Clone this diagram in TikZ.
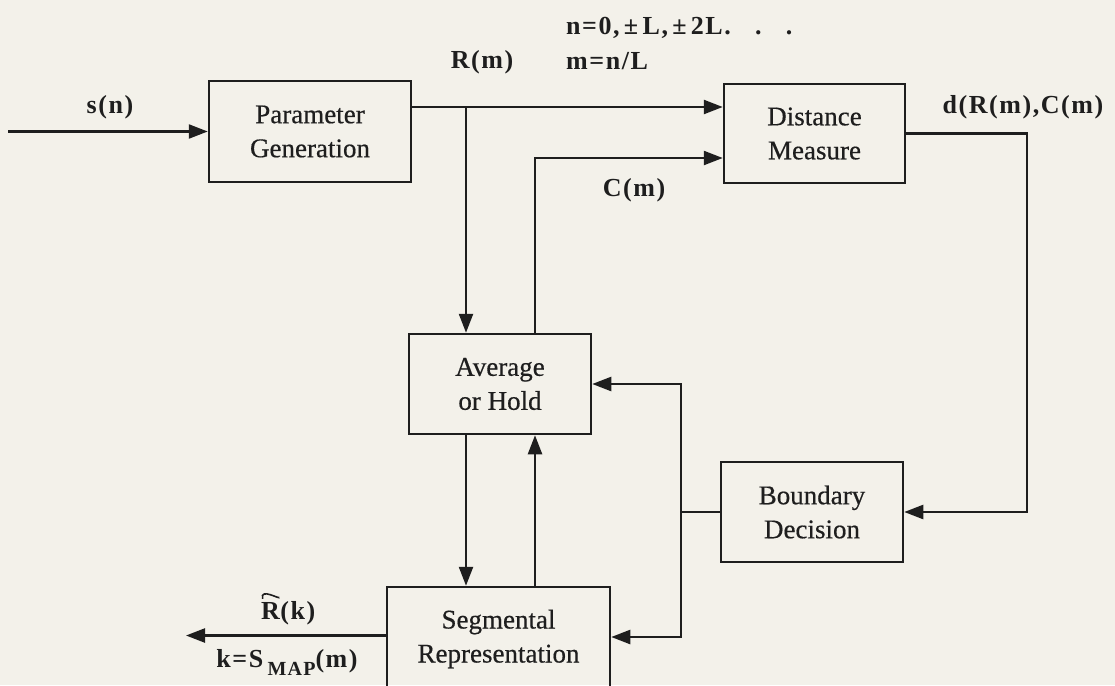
\documentclass[tikz,border=0pt]{standalone}
\usepackage{fontspec}
\setmainfont{Liberation Serif}
\newfontface\boxfont[FakeBold=0.5]{Liberation Serif}
\newfontfamily\lblfont[LetterSpace=6]{Liberation Serif}
\usetikzlibrary{arrows.meta}
\definecolor{paper}{HTML}{F3F1EA}
\definecolor{ink}{HTML}{1E1E1E}
\tikzset{
  blk/.style={draw=ink, line width=2.5pt, rectangle, inner sep=0pt, align=center,
    font=\boxfont\fontsize{27}{34}\selectfont, text=ink},
  conn/.style={draw=ink, line width=2.4pt},
  arr/.style={conn, -{Triangle[length=19pt,width=14pt]}},
  lbl/.style={font=\lblfont\bfseries\fontsize{26}{32}\selectfont, text=ink, inner sep=0pt},
}
\begin{document}
\begin{tikzpicture}[x=1pt,y=-1pt]
\fill[paper] (0,0) rectangle (1115,685);
\useasboundingbox (0,0) rectangle (1115,685);
% blocks
\node[blk, minimum width=202pt, minimum height=101pt] (PG) at (310,131.5) {Parameter\\Generation};
\node[blk, minimum width=181pt, minimum height=99pt] (DM) at (814.5,133.5) {Distance\\Measure};
\node[blk, minimum width=182pt, minimum height=100pt] (AH) at (500,384) {Average\\or Hold};
\node[blk, minimum width=182pt, minimum height=100pt] (BD) at (812,512) {Boundary\\Decision};
\node[blk, minimum width=223pt, minimum height=104pt] (SR) at (498.5,639) {Segmental\\Representation};
% coordinates
\coordinate (in) at (8,131.5);
\coordinate (br) at (466,107);
\coordinate (cm) at (535,158);
\coordinate (dr) at (1027,133.5);
\coordinate (jn) at (681,512);
\coordinate (out) at (186,635.5);
\coordinate (sri) at (681,637);
% connectors
\draw[arr] (in) -- (PG.west);
\draw[arr] (PG.east |- br) -- (DM.west |- br);
\draw[arr] (br) -- (br |- AH.north);
\draw[arr] (cm |- AH.north) |- (DM.west |- cm);
\draw[arr] (DM.east) -| (dr |- BD.east) -- (BD.east);
\draw[conn] (BD.west) -- (jn);
\draw[arr] (jn) |- (AH.east);
\draw[arr] (jn) -- (sri) -- (SR.east |- sri);
\draw[arr] (AH.south -| br) -- (SR.north -| br);
\draw[arr] (SR.north -| cm) -- (AH.south -| cm);
\draw[arr] (SR.west |- out) -- (out);
% labels
\node[lbl] (ls) at (110,107) {s(n)};
\node[lbl] (lr) at (482,62) {R(m)};
\node[lbl, anchor=west] (ln) at (566,28) {n=0,\,±\,L,\,±\,2L.\ \ \ .\ \ \ .};
\node[lbl, anchor=west] (lm) at (566,61) {m=n/L};
\node[lbl] (lc) at (634,190) {C(m)};
\node[lbl] (ld) at (1023,107) {d(R(m),C(m)};
\node[lbl, anchor=base west] (lR) at (261,619) {R};
\node[lbl, anchor=base west] (lk) at (lR.base east) {(k)};
\draw[ink, line width=1.6pt] (lR.north) +(-8,-3) .. controls +(-3,-12) and +(3,4) .. +(8,-5);
\node[lbl] (lmap) at (287,662) {k=S\,\raisebox{-8pt}{\fontsize{20}{20}\selectfont MAP}(m)};
\end{tikzpicture}
\end{document}
